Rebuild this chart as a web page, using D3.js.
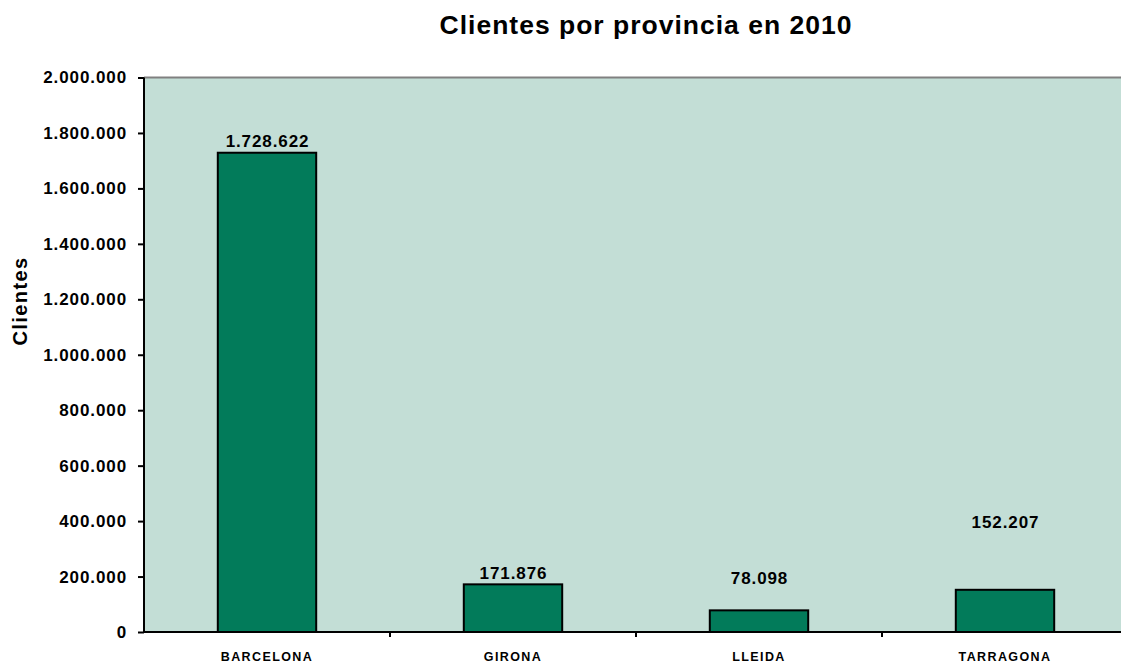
<html>
<head>
<script src="https://d3js.org/d3.v7.min.js"></script>
<style>
  body { margin: 0; background: #fff; }
  text { font-family: "Liberation Sans", Arial, sans-serif; font-weight: bold; }
</style>
</head>
<body>
<div id="chart"></div>
<script>
// data
var provincias = ["BARCELONA", "GIRONA", "LLEIDA", "TARRAGONA"];
var clientes = [1728622, 171876, 78098, 152207];
// where the value labels sit (data units), as in the original
var labelAt = [1728622, 171876, 155000, 357000];
var yTicks = [0, 200000, 400000, 600000, 800000, 1000000, 1200000, 1400000, 1600000, 1800000, 2000000];

var W = 1121, H = 666;
var margin = {top: 77.5, right: -7, bottom: 34, left: 144};

var svg = d3.select("#chart").append("svg")
  .attr("width", W).attr("height", H);

var x = d3.scaleBand()
  .domain(provincias)
  .range([margin.left, W - margin.right])
  .paddingInner(0).paddingOuter(0);

var y = d3.scaleLinear()
  .domain([0, 2000000])
  .range([H - margin.bottom, margin.top]);

var fmt = function(v) { return d3.format(",")(v).replace(/,/g, "."); };

// plot background
svg.append("rect")
  .attr("x", margin.left).attr("y", y(2000000))
  .attr("width", W - margin.left).attr("height", y(0) - y(2000000))
  .attr("fill", "#c3ded6");

svg.append("line")
  .attr("x1", margin.left).attr("x2", W)
  .attr("y1", y(2000000)).attr("y2", y(2000000))
  .attr("stroke", "#808080").attr("stroke-width", 2);

// bars
var bw = x.bandwidth() * 0.4;
svg.selectAll("rect.bar")
  .data(provincias)
  .enter().append("rect")
    .attr("class", "bar")
    .attr("x", function(d) { return x(d) + x.bandwidth() / 2 - bw / 2; })
    .attr("y", function(d, i) { return y(clientes[i]); })
    .attr("width", bw)
    .attr("height", function(d, i) { return y(0) - y(clientes[i]); })
    .attr("fill", "#027b5a")
    .attr("stroke", "#000")
    .attr("stroke-width", 2);

// value labels
svg.selectAll("text.val")
  .data(provincias)
  .enter().append("text")
    .attr("class", "val")
    .attr("x", function(d) { return x(d) + x.bandwidth() / 2 + 0.5; })
    .attr("y", function(d, i) { return y(labelAt[i]) - 5.5; })
    .attr("text-anchor", "middle")
    .attr("font-size", "17px")
    .style("letter-spacing", "0.9px")
    .text(function(d, i) { return fmt(clientes[i]); });

// y axis
var yAxis = svg.append("g")
  .attr("transform", "translate(" + margin.left + ",0)")
  .call(d3.axisLeft(y).tickValues(yTicks).tickSize(6).tickPadding(11).tickFormat(fmt));
yAxis.select(".domain").attr("stroke-width", 2).attr("d", "M0," + y(0) + "V" + y(2000000));
yAxis.selectAll(".tick line").attr("stroke-width", 2);
yAxis.selectAll("text").attr("font-size", "17px").attr("fill", "#000")
  .style("font-family", "Liberation Sans, Arial, sans-serif").style("font-weight", "bold")
  .style("letter-spacing", "0.9px");

// x axis
var xAxis = svg.append("g")
  .attr("transform", "translate(0," + y(0) + ")")
  .call(d3.axisBottom(x).tickSize(0).tickPadding(20));
xAxis.select(".domain").attr("stroke-width", 2).attr("d", "M" + margin.left + ",0H" + W);
xAxis.selectAll("text").attr("font-size", "12.5px").attr("fill", "#000")
  .style("font-family", "Liberation Sans, Arial, sans-serif").style("font-weight", "bold")
  .style("letter-spacing", "1.4px");

// category separators
svg.selectAll("line.sep")
  .data(provincias.slice(1))
  .enter().append("line")
    .attr("class", "sep")
    .attr("x1", function(d) { return x(d); }).attr("x2", function(d) { return x(d); })
    .attr("y1", y(0)).attr("y2", y(0) + 5)
    .attr("stroke", "#000").attr("stroke-width", 2);

// titles
svg.append("text")
  .attr("x", 646).attr("y", 34)
  .attr("text-anchor", "middle")
  .attr("font-size", "26.5px")
  .style("letter-spacing", "1px")
  .text("Clientes por provincia en 2010");

svg.append("text")
  .attr("transform", "translate(27,301) rotate(-90)")
  .attr("text-anchor", "middle")
  .attr("font-size", "20px")
  .style("letter-spacing", "1.4px")
  .text("Clientes");
</script>
</body>
</html>
